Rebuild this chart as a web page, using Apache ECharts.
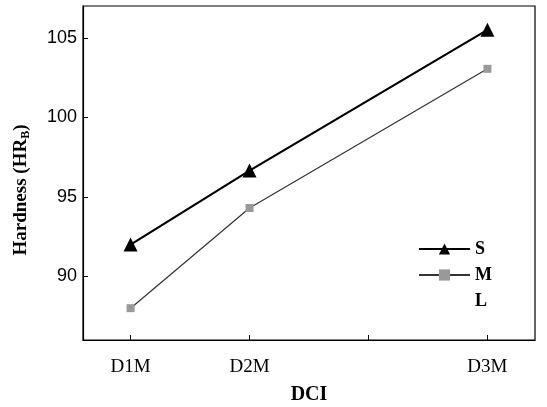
<!DOCTYPE html>
<html><head><meta charset="utf-8">
<script src="https://cdn.jsdelivr.net/npm/echarts@6/dist/echarts.min.js"></script>
<style>html,body{margin:0;padding:0;background:#fff}#c{width:547px;height:407px}</style>
</head><body><div id="c"></div>
<script>
const categories = ['D1M', 'D2M', 'D3M'];
const categoryX = [1, 2, 4];
const xTicks = [1, 2, 3, 4];
const yTicks = [90, 95, 100, 105];
const seriesS = [92.0, 96.65, 105.5];
const seriesM = [88.0, 94.3, 103.05];
const seriesL = [];

const chart = echarts.init(document.getElementById('c'), null, {renderer: 'canvas'});
const pair = arr => arr.map((v, i) => [categoryX[i], v]);
const serif = '"Liberation Serif","Times New Roman",serif';
chart.setOption({
  animation: false,
  backgroundColor: '#fff',
  grid: {left: 83, right: 12, top: 6, bottom: 67, show: true, borderColor: '#000', borderWidth: 1.2,
         outerBoundsMode: 'none', containLabel: false},
  xAxis: {
    type: 'value', min: 0.6, max: 4.4,
    name: 'DCI', nameLocation: 'middle', nameGap: 45,
    nameTextStyle: {fontFamily: serif, fontWeight: 'bold', fontSize: 20, color: '#000'},
    axisLine: {show: true, lineStyle: {color: '#000', width: 1.2}},
    axisTick: {show: true, inside: true, length: 5, customValues: xTicks, lineStyle: {color: '#000'}},
    axisLabel: {customValues: categoryX, margin: 18, fontFamily: serif, fontSize: 19, color: '#000',
      formatter: v => { const i = categoryX.indexOf(Math.round(v)); return i >= 0 ? categories[i] : ''; }},
    splitLine: {show: false}
  },
  yAxis: {
    type: 'value', min: 86, max: 107,
    name: '{t|Hardness (HR}{s|B}{t|)}', nameLocation: 'middle', nameGap: 51, nameRotate: 90,
    nameTextStyle: {padding: [0, 34, 0, 0], rich: {
      t: {fontFamily: serif, fontWeight: 'bold', fontSize: 19, color: '#000'},
      s: {fontFamily: serif, fontWeight: 'bold', fontSize: 12, color: '#000', padding: [10, 0, 0, 0]}
    }},
    axisLine: {show: true, lineStyle: {color: '#000', width: 1.2}},
    axisTick: {show: true, inside: true, length: 5, customValues: yTicks, lineStyle: {color: '#000'}},
    axisLabel: {customValues: yTicks, margin: 6, fontFamily: '"Liberation Sans",Arial,sans-serif', fontSize: 18, color: '#000'},
    splitLine: {show: false}
  },
  legend: {
    orient: 'vertical', left: 413, top: 235, itemWidth: 51, itemHeight: 14, itemGap: 8,
    textStyle: {fontFamily: serif, fontWeight: 'bold', fontSize: 18, color: '#000'},
    data: [{name: 'S'}, {name: 'M'}, {name: 'L', icon: 'none'}]
  },
  series: [
    {name: 'S', type: 'line', data: pair(seriesS), symbol: 'triangle', symbolSize: 14,
     lineStyle: {color: '#000', width: 2.2}, itemStyle: {color: '#000'}},
    {name: 'M', type: 'line', data: pair(seriesM), symbol: 'rect', symbolSize: 8,
     lineStyle: {color: '#333', width: 1.2}, itemStyle: {color: '#999'}},
    {name: 'L', type: 'line', data: seriesL, symbol: 'none',
     lineStyle: {color: '#fff', width: 0}, itemStyle: {color: '#fff'}}
  ]
});
</script></body></html>
